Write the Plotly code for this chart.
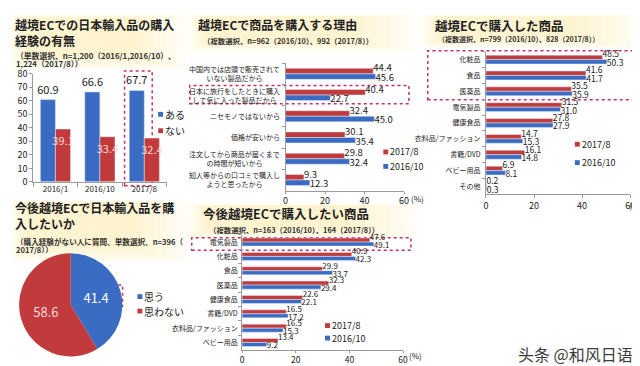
import plotly.graph_objects as go

W, H = 640, 366
def fx(x): return x / W
def fy(y): return 1 - y / H

FONT = "Noto Sans CJK JP"
BLUE = "#3b6cc3"
RED = "#c13a3c"
AXIS = "#9a9a9a"
TXT = "#222222"
BOX = "#c0306a"

# ---------------- data ----------------
p1_cats = ["2016/1", "2016/10", "2017/8"]
p1_yes = [60.9, 66.6, 67.7]
p1_no = [39.1, 33.4, 32.4]

p2_cats = ["中国内では店頭で販売されて<br>いない製品だから",
           "日本に旅行をしたときに購入<br>して気に入った製品だから",
           "ニセモノではないから",
           "価格が安いから",
           "注文してから商品が届くまで<br>の時間が短いから",
           "知人等からの口コミで購入し<br>ようと思ったから"]
p2_2017 = [44.4, 40.4, 32.4, 30.1, 29.8, 9.3]
p2_2016 = [45.6, 22.7, 45.0, 35.4, 32.4, 12.3]

p3_cats = ["化粧品", "食品", "医薬品", "電気製品", "健康食品",
           "衣料品/ファッション", "書籍/DVD", "ベビー用品", "その他"]
p3_2017 = [48.5, 41.6, 35.5, 31.5, 27.8, 14.7, 16.1, 6.9, 0.2]
p3_2016 = [50.3, 41.7, 35.9, 31.0, 27.9, 15.3, 14.8, 8.1, 0.3]

p4_labels = ["思う", "思わない"]
p4_values = [41.4, 58.6]

p5_cats = ["電気製品", "化粧品", "食品", "医薬品", "健康食品",
           "書籍/DVD", "衣料品/ファッション", "ベビー用品"]
p5_2017 = [47.6, 40.9, 29.9, 32.3, 22.6, 16.5, 16.5, 13.4]
p5_2016 = [49.1, 42.3, 33.7, 29.4, 22.1, 17.2, 15.3, 9.2]

series_names = ["2017/8", "2016/10"]

fig = go.Figure()

# ---------------- panel 1 ----------------
w1 = 0.34
fig.add_trace(go.Bar(x=p1_cats, y=p1_yes, name="ある", marker_color=BLUE, width=w1, offset=-w1,
                     texttemplate="%{y:.1f}", textposition="outside", textangle=0,
                     textfont=dict(size=11, color=TXT, family=FONT), constraintext="none",
                     cliponaxis=False, xaxis="x", yaxis="y", showlegend=False))
fig.add_trace(go.Bar(x=p1_cats, y=p1_no, name="ない", marker_color=RED, width=w1, offset=0,
                     texttemplate="%{y:.1f}", textposition="inside", insidetextanchor="end", textangle=0,
                     textfont=dict(size=11, color="#fbdada", family=FONT), constraintext="none",
                     cliponaxis=False, xaxis="x", yaxis="y", showlegend=False))

def hbar(cats, v17, v16, xa, ya, w, fs):
    for vals, col, off, pos, nm in ((v17, RED, -w, "top right", series_names[0]),
                                    (v16, BLUE, 0, "bottom right", series_names[1])):
        fig.add_trace(go.Bar(y=cats, x=vals, orientation="h", name=nm, marker_color=col,
                             width=w, offset=off, xaxis=xa, yaxis=ya, showlegend=False,
                             hoverinfo="skip"))
        fig.add_trace(go.Scatter(y=cats, x=vals, mode="text", text=[f"{v:.1f}" for v in vals],
                                 textposition=pos, textfont=dict(size=fs, color=TXT, family=FONT),
                                 cliponaxis=False, xaxis=xa, yaxis=ya, showlegend=False,
                                 hoverinfo="skip"))

hbar(p2_cats, p2_2017, p2_2016, "x2", "y2", 0.26, 9.5)
hbar(p3_cats, p3_2017, p3_2016, "x3", "y3", 0.28, 8.5)
hbar(p5_cats, p5_2017, p5_2016, "x4", "y4", 0.28, 8)

# ---------------- panel 4 pie ----------------
fig.add_trace(go.Pie(labels=p4_labels, values=p4_values, sort=False, direction="clockwise", rotation=0,
                     marker=dict(colors=[BLUE, RED], line=dict(width=0)),
                     texttemplate="%{value}", textposition="inside", insidetextorientation="horizontal",
                     textfont=dict(size=13, color=["#ffffff", "#fbdada"], family=FONT),
                     domain=dict(x=[fx(7), fx(114)], y=[fy(354), fy(247)]),
                     showlegend=False, hoverinfo="skip"))

def ax(**kw):
    base = dict(showgrid=False, zeroline=False, linecolor=AXIS, linewidth=1, ticks="outside",
                tickcolor=AXIS, ticklen=3, tickfont=dict(size=9, color=TXT, family=FONT),
                fixedrange=True, showline=True)
    base.update(kw)
    return base

layout_axes = dict(
    xaxis=ax(domain=[fx(22.5), fx(157.5)], anchor="y", type="category", tickson="boundaries",
             ticklen=4, tickfont=dict(size=8, color=TXT, family=FONT)),
    yaxis=ax(domain=[fy(173), fy(61)], anchor="x", range=[0, 80], dtick=10),
    xaxis2=ax(domain=[fx(278), fx(398)], anchor="y2", range=[0, 60], dtick=20, ticklen=2),
    yaxis2=ax(domain=[fy(182), fy(50)], anchor="x2", type="category", range=[5.5, -0.5],
              showticklabels=False, tickson="boundaries"),
    xaxis3=ax(domain=[fx(481), fx(627)], anchor="y3", range=[0, 60], dtick=20),
    yaxis3=ax(domain=[fy(186), fy(38)], anchor="x3", type="category", range=[8.5, -0.5],
              tickson="boundaries", ticklabelstandoff=3,
              tickfont=dict(size=7, color=TXT, family=FONT)),
    xaxis4=ax(domain=[fx(234), fx(397)], anchor="y4", range=[0, 60], dtick=20, ticklen=2,
              tickfont=dict(size=8.5, color=TXT, family=FONT)),
    yaxis4=ax(domain=[fy(347), fy(228)], anchor="x4", type="category", range=[7.5, -0.5],
              tickson="boundaries", ticklabelstandoff=2,
              tickfont=dict(size=7, color=TXT, family=FONT)),
)

annotations = []
shapes = []

def txt(x, y, s, size, bold=False, anchor="left", color=TXT, family=FONT, align="left"):
    annotations.append(dict(x=fx(x), y=fy(y), xref="paper", yref="paper", text=s, showarrow=False,
                            xanchor=anchor, yanchor="middle", align=align, borderpad=0,
                            font=dict(size=size, color=color, family=family,
                                      weight=700 if bold else 400)))

def legend_item(x, y, color, label, size=9):
    shapes.append(dict(type="rect", xref="paper", yref="paper", x0=fx(x), x1=fx(x + 5),
                       y0=fy(y + 2.5), y1=fy(y - 2.5), fillcolor=color, line=dict(width=0)))
    txt(x + 6, y, label, size)

def glow(x0, y0, x1, y1):
    n = 6
    for i in range(n):
        dx = i * (x1 - x0) * 0.06
        dy = i * (y1 - y0) * 0.05
        shapes.append(dict(type="rect", xref="paper", yref="paper", layer="below",
                           x0=fx(x0 + dx * 0.3), x1=fx(x1 - dx), y0=fy(y1 - dy), y1=fy(y0 + dy * 0.2),
                           fillcolor="rgba(252,240,160,0.10)", line=dict(width=0)))

def dbox(x0, y0, x1, y1):
    shapes.append(dict(type="rect", xref="paper", yref="paper", layer="below",
                       x0=fx(x0), x1=fx(x1), y0=fy(y1), y1=fy(y0),
                       line=dict(color=BOX, width=1.5, dash="dot")))

glow(0, 0, 178, 57)
glow(178, 0, 412, 38)
glow(415, 0, 640, 34)
glow(0, 192, 178, 256)
glow(178, 196, 412, 232)

# titles & subtitles
txt(3, 10, "越境ECでの日本輸入品の購入", 12, True)
txt(3, 26, "経験の有無", 12, True)
txt(4, 42, "（単数選択、n=1,200（2016/1,2016/10）、", 7.8, True, color="#333")
txt(4, 50, "1,224（2017/8））", 7.8, True, color="#333")

txt(188, 10, "越境ECで商品を購入する理由", 12, True)
txt(193, 26, "（複数選択、n=962（2016/10）、992（2017/8））", 7.4, True, color="#333")

txt(428, 11, "越境ECで購入した商品", 12.5, True)
txt(431, 25, "（複数選択、n=799（2016/10）、828（2017/8））", 7, True, color="#333")

txt(3, 200, "今後越境ECで日本輸入品を購", 12, True)
txt(3, 216, "入したいか", 12, True)
txt(4, 235, "（購入経験がない人に質問、単数選択、n=396（", 7.6, True, color="#333")
txt(4, 243, "2017/8））", 7.6, True, color="#333")

txt(193, 206, "今後越境ECで購入したい商品", 12.5, True)
txt(199, 222, "（複数選択、n=163（2016/10）、164（2017/8））", 7.4, True, color="#333")

# panel 2 category labels (centered multi-line)
for c in p2_cats:
    annotations.append(dict(x=fx(273), xref="paper", y=c, yref="y2", text=c, showarrow=False,
                            xanchor="right", yanchor="middle", align="center", borderpad=0,
                            font=dict(size=7, color=TXT, family=FONT)))

# percent units
txt(404, 190, "(%)", 8, anchor="left")
txt(639, 198, "(%)", 7.5, anchor="right")
txt(402, 353, "(%)", 8, anchor="left")

# legends
legend_item(149, 103, BLUE, "ある", 10)
legend_item(149, 120, RED, "ない", 10)
legend_item(377, 142, RED, series_names[0])
legend_item(377, 157, BLUE, series_names[1])
legend_item(571, 134, RED, series_names[0])
legend_item(571, 153, BLUE, series_names[1])
legend_item(128, 292, BLUE, p4_labels[0], 10)
legend_item(128, 307, RED, p4_labels[1], 10)
legend_item(318, 322, RED, series_names[0])
legend_item(318, 335, BLUE, series_names[1])

# highlight boxes
dbox(115, 58, 143, 177)
dbox(181, 73, 403, 92)
dbox(422, 37, 638, 88)
dbox(63, 280, 113, 302)
dbox(183, 231, 405, 244)

# watermark
txt(512, 351, "头条 @和风日语", 16, False, color="#3c3c3c", family="Noto Sans CJK SC")

fig.update_layout(width=W, height=H, autosize=False, margin=dict(l=0, r=0, t=0, b=0),
                  paper_bgcolor="white", plot_bgcolor="rgba(0,0,0,0)", barmode="group",
                  font=dict(family=FONT, color=TXT), annotations=annotations, shapes=shapes,
                  **layout_axes)

fig.write_html("out.html")
